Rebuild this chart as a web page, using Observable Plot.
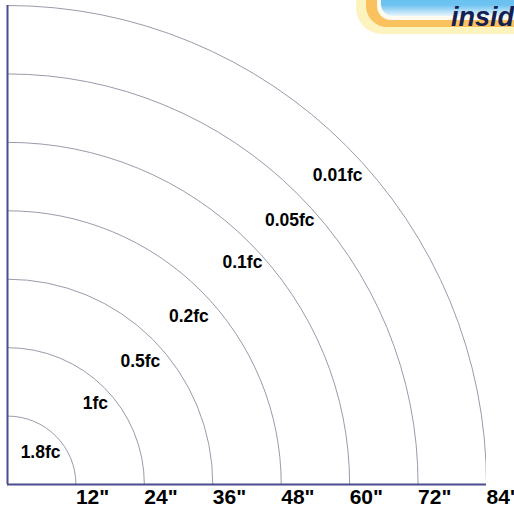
<!DOCTYPE html>
<html>
<head>
<meta charset="utf-8">
<script src="https://cdn.jsdelivr.net/npm/d3@7"></script>
<script src="https://cdn.jsdelivr.net/npm/@observablehq/plot@0.6"></script>
<style>
  html, body { margin: 0; padding: 0; background: #fff; overflow: hidden; }
  #wrap { position: relative; width: 514px; height: 515px; overflow: hidden; }
  #chart svg { display: block; overflow: hidden; }
  .logo { position: absolute; }
</style>
</head>
<body>
<div id="wrap">
  <div id="chart"></div>
  <div class="logo" style="left:356px; top:-40px; width:200px; height:74px; border-radius:26px; background:#fdf3bf;"></div>
  <div class="logo" style="left:366px; top:-40px; width:200px; height:67px; border-radius:21px; background:#f9c25e;"></div>
  <div class="logo" style="left:377px; top:-40px; width:200px; height:60px; border-radius:14px; background:#fefaf0;"></div>
  <div class="logo" style="left:381px; top:-40px; width:200px; height:56px; border-radius:12px; background:linear-gradient(to bottom, #5bb8ee 0%, #6cc2f0 80%, #e8f5fc 100%);"></div>
  <div class="logo" style="left:451px; top:1px; font-family:'Liberation Sans', Arial, sans-serif; font-weight:bold; font-style:italic; font-size:27px; color:#152050; line-height:32px;">insid</div>
</div>
<script>
const radii = [12, 24, 36, 48, 60, 72, 84];
const tickValues = [12, 24, 36, 48, 60, 72, 84];
const levelLabels = ["1.8fc", "1fc", "0.5fc", "0.2fc", "0.1fc", "0.05fc", "0.01fc"];
const labelX = [5.8, 15.4, 23.3, 31.8, 41.2, 49.5, 57.9];
const labelY = [5.6, 14.2, 21.6, 29.5, 38.9, 46.3, 54.2];

const labels = levelLabels.map((t, i) => ({text: t, x: labelX[i], y: labelY[i]}));

const chart = Plot.plot({
  width: 514,
  height: 515,
  marginLeft: 7,
  marginRight: 28,
  marginTop: 5,
  marginBottom: 31,
  style: {fontFamily: "'Liberation Sans', Arial, sans-serif", background: "white", overflow: "hidden"},
  x: {domain: [0, 84], axis: null},
  y: {domain: [0, 84], axis: null},
  r: {type: "linear", domain: [0, 84], range: [0, 479]},
  marks: [
    Plot.dot(radii, {x: () => 0, y: () => 0, r: d => d, fill: "none", stroke: "#9a9aac", strokeWidth: 1, clip: "frame"}),
    Plot.ruleX([0], {stroke: "#4b4b8f", strokeWidth: 2}),
    Plot.ruleY([0], {stroke: "#4b4b8f", strokeWidth: 2}),
    Plot.axisX(tickValues, {
      label: null,
      tickSize: 0, tickPadding: 5, tickFormat: d => d + '"',
      textAnchor: "start", fontSize: 21, fontWeight: "bold", fill: "black"
    }),
    Plot.text(labels, {x: "x", y: "y", text: "text", fontSize: 17.5, fontWeight: "bold", fill: "black"})
  ]
});
document.getElementById("chart").appendChild(chart);
</script>
</body>
</html>
